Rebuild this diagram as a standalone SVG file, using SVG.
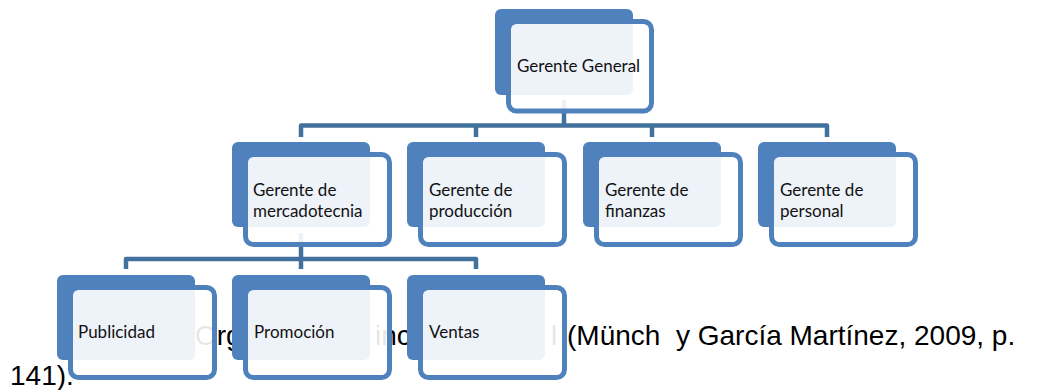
<svg xmlns="http://www.w3.org/2000/svg" width="1039" height="390" viewBox="0 0 1039 390">
  <style>
    .cap { font-family: "Liberation Sans", Arial, sans-serif; font-size: 28px; fill: #000; white-space: pre; }
    .back { fill: #4F81BD; }
    .front { fill: #FFFFFF; fill-opacity: 0.9; stroke: #4F81BD; stroke-width: 5; }
    .lbl { font-family: Lato, "Open Sans", sans-serif; font-size: 17px; fill: #111; }
    .conn { fill: none; stroke: #41719C; stroke-width: 4.5; stroke-linejoin: round; }
  </style>

  <g id="caption">
    <text class="cap" x="195" y="345">Org</text>
    <text class="cap" x="375" y="345">inc</text>
    <text class="cap" x="551" y="345">l</text>
    <text class="cap" x="567" y="345" xml:space="preserve">(Münch  y García Martínez, 2009, p.</text>
    <text class="cap" x="10" y="385">141).</text>
  </g>

  <g id="connectors">
    <path class="conn" d="M564,100 V125.5"/>
    <path class="conn" d="M301,137 V125.5 H827 V137"/>
    <path class="conn" d="M476,125.5 V137"/>
    <path class="conn" d="M652,125.5 V137"/>
    <path class="conn" d="M301,233 V269"/>
    <path class="conn" d="M126,269 V259 H476 V269"/>
  </g>

  <g id="gerente-general">
    <rect class="back" x="495" y="9" width="138" height="86" rx="6"/>
    <rect class="front" x="508.5" y="21.5" width="143" height="89.5" rx="8"/>
    <text class="lbl" x="517" y="72">Gerente General</text>
  </g>

  <g id="gerente-mercadotecnia">
    <rect class="back" x="232" y="142" width="138" height="85" rx="6"/>
    <rect class="front" x="245.5" y="154.5" width="144" height="90" rx="8"/>
    <text class="lbl" x="253" y="196">Gerente de</text>
    <text class="lbl" x="253" y="216.5">mercadotecnia</text>
  </g>

  <g id="gerente-produccion">
    <rect class="back" x="407" y="142" width="138" height="85" rx="6"/>
    <rect class="front" x="420.5" y="154.5" width="144" height="90" rx="8"/>
    <text class="lbl" x="429" y="196">Gerente de</text>
    <text class="lbl" x="429" y="216.5">producción</text>
  </g>

  <g id="gerente-finanzas">
    <rect class="back" x="583" y="142" width="138" height="85" rx="6"/>
    <rect class="front" x="596.5" y="154.5" width="144" height="90" rx="8"/>
    <text class="lbl" x="605" y="196">Gerente de</text>
    <text class="lbl" x="605" y="216.5">finanzas</text>
  </g>

  <g id="gerente-personal">
    <rect class="back" x="758" y="142" width="138" height="85" rx="6"/>
    <rect class="front" x="771.5" y="154.5" width="144" height="90" rx="8"/>
    <text class="lbl" x="780" y="196">Gerente de</text>
    <text class="lbl" x="780" y="216.5">personal</text>
  </g>

  <g id="publicidad">
    <rect class="back" x="57" y="275" width="138" height="85" rx="6"/>
    <rect class="front" x="70.5" y="287.5" width="144" height="90" rx="8"/>
    <text class="lbl" x="78" y="338">Publicidad</text>
  </g>

  <g id="promocion">
    <rect class="back" x="232" y="275" width="138" height="85" rx="6"/>
    <rect class="front" x="245.5" y="287.5" width="144" height="90" rx="8"/>
    <text class="lbl" x="254" y="338">Promoción</text>
  </g>

  <g id="ventas">
    <rect class="back" x="407" y="275" width="138" height="85" rx="6"/>
    <rect class="front" x="420.5" y="287.5" width="144" height="90" rx="8"/>
    <text class="lbl" x="429" y="338">Ventas</text>
  </g>
</svg>
